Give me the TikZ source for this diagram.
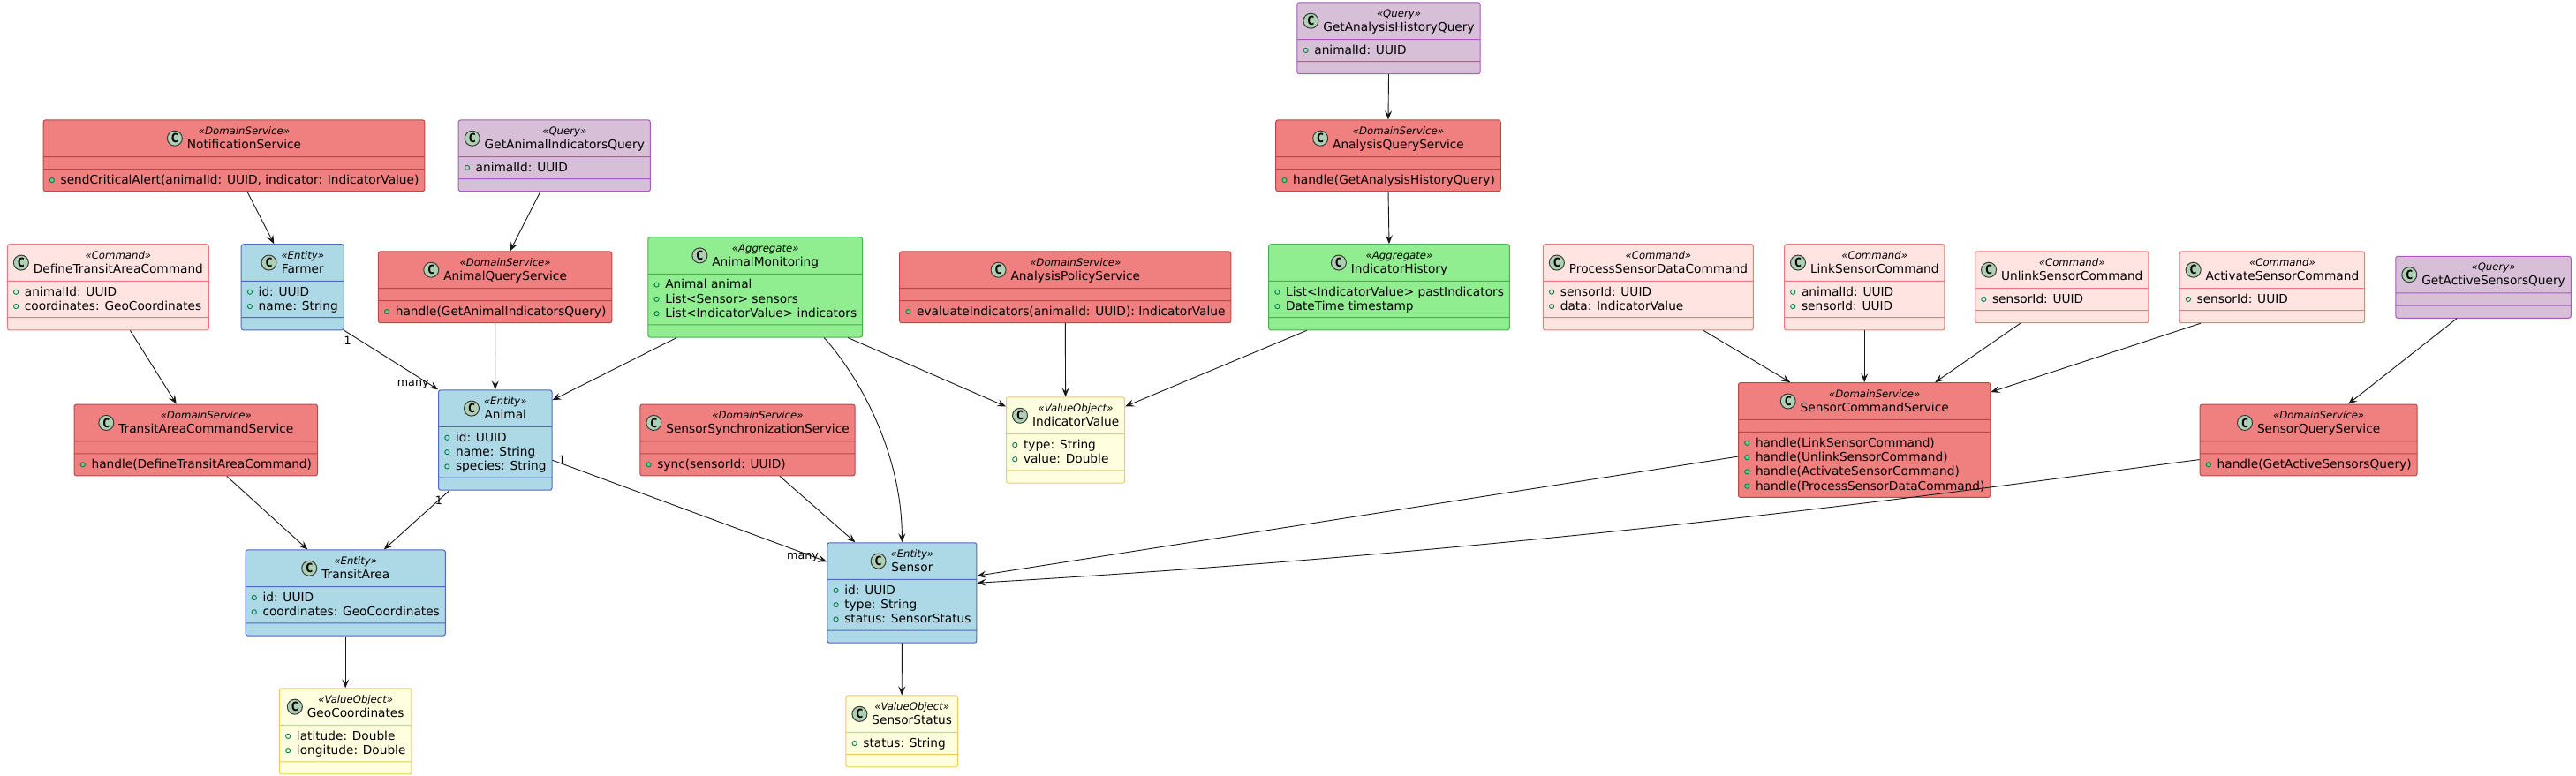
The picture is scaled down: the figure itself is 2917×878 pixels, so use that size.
\documentclass[tikz,border=0pt]{standalone}
\usepackage{fontspec}
\setmainfont{DejaVu Sans}
\setmonofont{DejaVu Sans Mono}
\usetikzlibrary{shapes.multipart,arrows.meta}

\definecolor{svcfill}{HTML}{F08080}
\definecolor{svcline}{HTML}{B94848}
\definecolor{qryfill}{HTML}{D8BFD8}
\definecolor{qryline}{HTML}{A65CB8}
\definecolor{entfill}{HTML}{ADD8E6}
\definecolor{entline}{HTML}{5068C4}
\definecolor{aggfill}{HTML}{90EE90}
\definecolor{aggline}{HTML}{4FAE4F}
\definecolor{vofill}{HTML}{FFFFE0}
\definecolor{voline}{HTML}{EDCB5A}
\definecolor{cmdfill}{HTML}{FFE4E1}
\definecolor{cmdline}{HTML}{F07878}
\definecolor{circfill}{HTML}{ADD1B2}
\definecolor{circline}{HTML}{3A3A3A}
\definecolor{icongreen}{HTML}{038048}
\definecolor{iconfill}{HTML}{84BE84}
\definecolor{linecol}{HTML}{181818}

% class header: circled C, stereotype and name
\newcommand{\stfont}{\fontsize{11.7}{12}\selectfont\itshape}
\newcommand{\cicon}{\tikz\node[circle,draw=circline,fill=circfill,line width=1pt,inner sep=0pt,minimum size=17pt,text=black,font=\fontsize{14}{14}\selectfont\ttfamily\bfseries]{C};}
\newcommand{\chead}[2]{$\vcenter{\hbox{\cicon}}$\hspace{5pt}$\vcenter{\offinterlineskip\halign{\hfil##\hfil\cr\rule[-3pt]{0pt}{15.15pt}{\stfont «#1»}\cr\rule[-4.85pt]{0pt}{17.85pt}#2\cr}}$}
% fields and methods
\newcommand{\fo}{\tikz[baseline=-4.3pt]\draw[draw=icongreen,line width=0.9pt] (0,0) circle (2.6pt);}
\newcommand{\fm}{\tikz[baseline=-4.3pt]\draw[draw=icongreen,fill=iconfill,line width=0.9pt] (0,0) circle (2.6pt);}
\newcommand{\fline}[1]{\hbox{\rule[-4pt]{0pt}{16.3pt}\makebox[6.5pt]{\fo}\hspace{6.5pt}#1}}
\newcommand{\mline}[1]{\hbox{\rule[-4pt]{0pt}{16.3pt}\makebox[6.5pt]{\fm}\hspace{6.5pt}#1}}
\newcommand{\members}[1]{\vbox{\offinterlineskip#1}}

\begin{document}
\begin{tikzpicture}[x=1pt,y=-1pt]

\tikzstyle{classbox}=[rectangle split, rectangle split parts=3,
    rectangle split part align={center,left,left},
    rectangle split empty part height=0pt, rectangle split empty part depth=0pt,
    rectangle split empty part width=0pt,
    draw, rounded corners=2.5pt, line width=1pt,
    inner xsep=6.5pt, inner ysep=3.85pt, text=black,
    font=\fontsize{13.7}{16.3}\selectfont]
\tikzstyle{svcbox}=[classbox, fill=svcfill, draw=svcline]
\tikzstyle{qrybox}=[classbox, fill=qryfill, draw=qryline]
\tikzstyle{entbox}=[classbox, fill=entfill, draw=entline]
\tikzstyle{aggbox}=[classbox, fill=aggfill, draw=aggline]
\tikzstyle{vobox}=[classbox, fill=vofill, draw=voline]
\tikzstyle{cmdbox}=[classbox, fill=cmdfill, draw=cmdline]
\tikzstyle{link}=[->, >={Stealth[length=10pt,width=8pt,inset=4pt]}, draw=linecol, line width=0.9pt]
\tikzstyle{mult}=[inner sep=1pt, text=black, font=\fontsize{12.7}{13}\selectfont]

  \path[fill=white] (0,0) rectangle (2917,878);
  \useasboundingbox (0,0) rectangle (2917,878);

  % top rows
  \node[qrybox] (gahq) at (1572.5,43.3) {\chead{Query}{GetAnalysisHistoryQuery}\nodepart{two}\members{\fline{animalId: UUID}}\nodepart{three}};
  \node[svcbox] (aqs) at (1572,176.3) {\chead{DomainService}{AnalysisQueryService}\nodepart{two}\nodepart{three}\members{\mline{handle(GetAnalysisHistoryQuery)}}};
  \node[svcbox] (notif) at (265,176.3) {\chead{DomainService}{NotificationService}\nodepart{two}\nodepart{three}\members{\mline{sendCriticalAlert(animalId: UUID, indicator: IndicatorValue)}}};
  \node[qrybox] (gaiq) at (627.8,176.3) {\chead{Query}{GetAnimalIndicatorsQuery}\nodepart{two}\members{\fline{animalId: UUID}}\nodepart{three}};

  % middle row
  \node[cmdbox] (dtac) at (122.4,325.3) {\chead{Command}{DefineTransitAreaCommand}\nodepart{two}\members{\fline{animalId: UUID}\fline{coordinates: GeoCoordinates}}\nodepart{three}};
  \node[entbox] (farmer) at (331.3,325.3) {\chead{Entity}{Farmer}\nodepart{two}\members{\fline{id: UUID}\fline{name: String}}\nodepart{three}};
  \node[svcbox] (animalqs) at (560.6,325.3) {\chead{DomainService}{AnimalQueryService}\nodepart{two}\nodepart{three}\members{\mline{handle(GetAnimalIndicatorsQuery)}}};
  \node[aggbox] (monitoring) at (855.2,325.3) {\chead{Aggregate}{AnimalMonitoring}\nodepart{two}\members{\fline{Animal animal}\fline{List<Sensor> sensors}\fline{List<IndicatorValue> indicators}}\nodepart{three}};
  \node[svcbox] (aps) at (1206.3,325.3) {\chead{DomainService}{AnalysisPolicyService}\nodepart{two}\nodepart{three}\members{\mline{evaluateIndicators(animalId: UUID): IndicatorValue}}};
  \node[aggbox] (history) at (1573,325.3) {\chead{Aggregate}{IndicatorHistory}\nodepart{two}\members{\fline{List<IndicatorValue> pastIndicators}\fline{DateTime timestamp}}\nodepart{three}};
  \node[cmdbox] (psdc) at (1866.4,325.3) {\chead{Command}{ProcessSensorDataCommand}\nodepart{two}\members{\fline{sensorId: UUID}\fline{data: IndicatorValue}}\nodepart{three}};
  \node[cmdbox] (lsc) at (2111.2,325.3) {\chead{Command}{LinkSensorCommand}\nodepart{two}\members{\fline{animalId: UUID}\fline{sensorId: UUID}}\nodepart{three}};
  \node[cmdbox] (usc) at (2334.7,325.3) {\chead{Command}{UnlinkSensorCommand}\nodepart{two}\members{\fline{sensorId: UUID}}\nodepart{three}};
  \node[cmdbox] (asc) at (2572.9,325.3) {\chead{Command}{ActivateSensorCommand}\nodepart{two}\members{\fline{sensorId: UUID}}\nodepart{three}};
  \node[qrybox] (gasq) at (2812,325.3) {\chead{Query}{GetActiveSensorsQuery}\nodepart{two}\nodepart{three}};

  % lower rows
  \node[svcbox] (tacs) at (221.8,498.5) {\chead{DomainService}{TransitAreaCommandService}\nodepart{two}\nodepart{three}\members{\mline{handle(DefineTransitAreaCommand)}}};
  \node[entbox] (animal) at (560.8,498.5) {\chead{Entity}{Animal}\nodepart{two}\members{\fline{id: UUID}\fline{name: String}\fline{species: String}}\nodepart{three}};
  \node[svcbox] (sss) at (846.5,498.5) {\chead{DomainService}{SensorSynchronizationService}\nodepart{two}\nodepart{three}\members{\mline{sync(sensorId: UUID)}}};
  \node[vobox] (indval) at (1206.6,498.5) {\chead{ValueObject}{IndicatorValue}\nodepart{two}\members{\fline{type: String}\fline{value: Double}}\nodepart{three}};
  \node[svcbox] (scs) at (2111.2,498.5) {\chead{DomainService}{SensorCommandService}\nodepart{two}\nodepart{three}\members{\mline{handle(LinkSensorCommand)}\mline{handle(UnlinkSensorCommand)}\mline{handle(ActivateSensorCommand)}\mline{handle(ProcessSensorDataCommand)}}};
  \node[svcbox] (sqs) at (2614.1,498.5) {\chead{DomainService}{SensorQueryService}\nodepart{two}\nodepart{three}\members{\mline{handle(GetActiveSensorsQuery)}}};

  \node[entbox] (transit) at (391.2,671.5) {\chead{Entity}{TransitArea}\nodepart{two}\members{\fline{id: UUID}\fline{coordinates: GeoCoordinates}}\nodepart{three}};
  \node[entbox] (sensor) at (1021.4,671.5) {\chead{Entity}{Sensor}\nodepart{two}\members{\fline{id: UUID}\fline{type: String}\fline{status: SensorStatus}}\nodepart{three}};

  \node[vobox] (geo) at (391.2,828.4) {\chead{ValueObject}{GeoCoordinates}\nodepart{two}\members{\fline{latitude: Double}\fline{longitude: Double}}\nodepart{three}};
  \node[vobox] (sstatus) at (1021.2,828.4) {\chead{ValueObject}{SensorStatus}\nodepart{two}\members{\fline{status: String}}\nodepart{three}};

  % connectors
  \draw[link] ([xshift=15pt]notif.south) -- ([xshift=-21pt]farmer.north);
  \draw[link] ([xshift=-16pt]gaiq.south) -- ([xshift=17pt]animalqs.north);
  \draw[link] ([xshift=25pt]dtac.south) -- ([xshift=-22pt]tacs.north);
  \draw[link] (farmer.south east) -- (animal.north west);
  \draw[link] (animalqs.south) -- (animal.north);
  \draw[link] ([xshift=-89pt]monitoring.south) -- ([yshift=-12pt]animal.north east);
  \draw[link] ([xshift=78pt]monitoring.south) .. controls +(42,47) and +(0,-99) .. (sensor.north);
  \draw[link] ([xshift=105pt]monitoring.south) -- ([yshift=-11pt]indval.north west);
  \draw[link] ([xshift=35pt]tacs.south) -- ([xshift=-43pt]transit.north);
  \draw[link] ([xshift=-52pt]animal.south) -- ([xshift=43.6pt]transit.north);
  \draw[link] ([yshift=-80pt]animal.north east) -- ([yshift=-22pt]sensor.north west);
  \draw[link] ([xshift=36.5pt]sss.south) -- ([xshift=-53pt]sensor.north);
  \draw[link] (transit.south) -- (geo.north);
  \draw[link] (sensor.south) -- (sstatus.north);
  \draw[link] (gahq.south) -- (aqs.north);
  \draw[link] (aqs.south) -- (history.north);
  \draw[link] (aps.south) -- (indval.north);
  \draw[link] ([xshift=-93.4pt]history.south) -- ([yshift=-11pt]indval.north east);
  \draw[link] ([xshift=62.6pt]psdc.south) -- ([xshift=-84pt]scs.north);
  \draw[link] (lsc.south) -- (scs.north);
  \draw[link] ([xshift=-47pt]usc.south) -- ([xshift=80pt]scs.north);
  \draw[link] ([xshift=-81pt]asc.south) -- ([yshift=-11pt]scs.north east);
  \draw[link] ([xshift=-30pt]gasq.south) -- ([xshift=45pt]sqs.north);
  \draw[link] ([yshift=-84pt]scs.north west) -- ([yshift=-38pt]sensor.north east);
  \draw[link] ([yshift=-63pt]sqs.north west) .. controls (2300,545) and (1800,620) .. ([yshift=-46pt]sensor.north east);

  % multiplicities
  \node[mult] (farmerone) at (393.6,386) {1};
  \node[mult] (farmermany) at (467.7,435) {many};
  \node[mult] (transitone) at (497,567) {1};
  \node[mult] (sensorone) at (636.4,521) {1};
  \node[mult] (sensormany) at (909,631) {many};

\end{tikzpicture}
\end{document}
